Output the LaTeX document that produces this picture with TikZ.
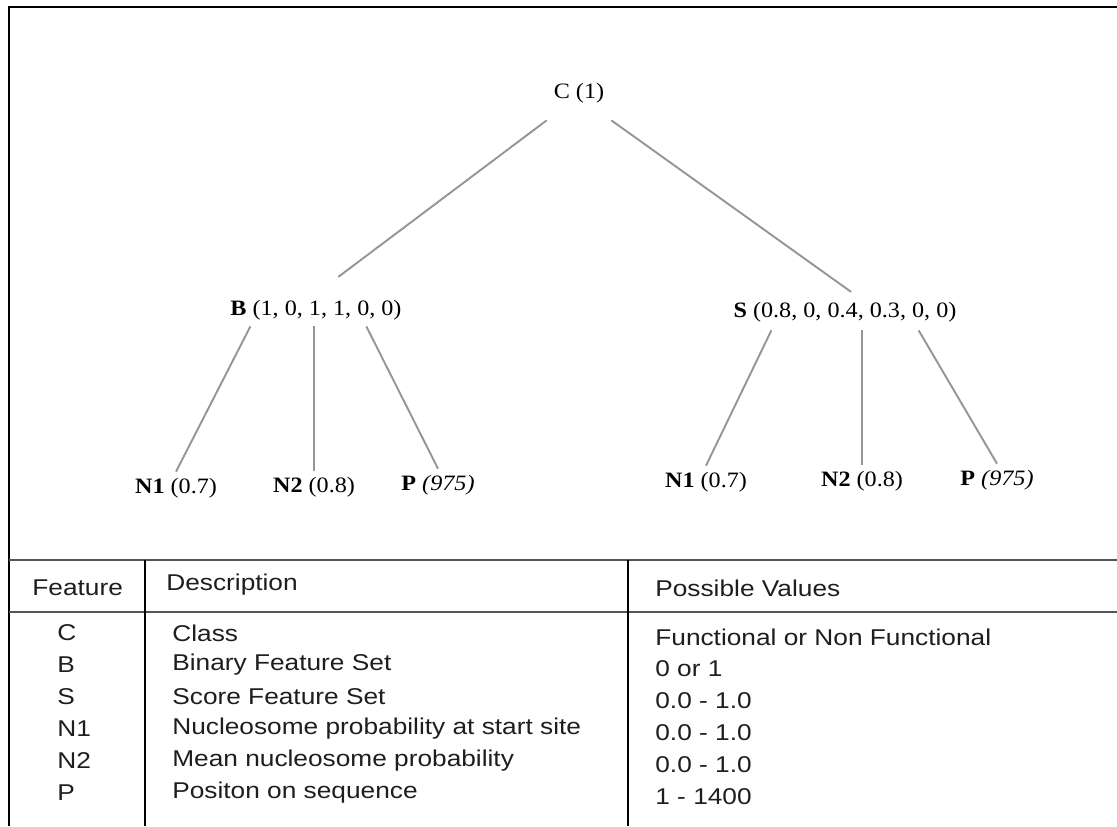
\documentclass[tikz,border=0pt]{standalone}
\usepackage{fontspec}
\setmainfont{Liberation Serif}[FakeStretch=1.1]
\newfontfamily\tablefont{Liberation Sans}[FakeStretch=1.15]
\usetikzlibrary{positioning,calc}
\definecolor{edgegray}{RGB}{150,150,150}
\definecolor{rulegray}{RGB}{85,85,85}
\definecolor{tabtext}{RGB}{30,30,30}
\tikzset{
  tnode/.style={rectangle, inner sep=0pt, font=\fontsize{12.5}{14}\selectfont},
  leaf/.style={tnode, minimum height=0.64cm},
  edge/.style={draw=edgegray, line width=1.1pt},
  frame/.style={line width=1.5pt, black},
  rule/.style={line width=1.3pt, rulegray},
  colrule/.style={line width=1.1pt, black},
  tcell/.style={font=\tablefont\fontsize{13}{15}\selectfont, text=tabtext,
                anchor=west, inner sep=0pt},
}

\begin{document}
\begin{tikzpicture}[x=0.02cm, y=-0.02cm]
  \useasboundingbox (0,0) rectangle (1117,826);
  % Frame
  \draw[frame] (9,826) -- (9,7) -- (1117,7);
  % Tree
  \node[tnode, minimum width=1.28cm, minimum height=1.08cm] (C) at (579,93) {C (1)};
  \node[tnode, minimum width=3.6cm, minimum height=0.64cm] (B) at (316,310)
    {\textbf{B} (1, 0, 1, 1, 0, 0)};
  \node[tnode, minimum width=4.6cm, minimum height=0.72cm] (S) at (845,312)
    {\textbf{S} (0.8, 0, 0.4, 0.3, 0, 0)};
  \node[leaf] (bN1) at (176,488) {\textbf{N1} (0.7)};
  \node[leaf] (bN2) at (314,487) {\textbf{N2} (0.8)};
  \node[leaf] (bP)  at (438,485) {\textbf{P} \textit{(975)}};
  \node[leaf] (sN1) at (706,482) {\textbf{N1} (0.7)};
  \node[leaf] (sN2) at (862,481) {\textbf{N2} (0.8)};
  \node[leaf] (sP)  at (997,480) {\textbf{P} \textit{(975)}};
  \draw[edge, shorten >=0.56cm] (C.south west) -- (B.north);
  \draw[edge, shorten >=0.06cm] (C.south east) -- (S.65);
  \draw[edge] (B.194) -- (bN1.north);
  \draw[edge] (B.south -| bN2.north) -- (bN2.north);
  \draw[edge] (B.342.6) -- (bP.north);
  \draw[edge] (S.194.8) -- (sN1.north);
  \draw[edge] (S.south -| sN2.north) -- (sN2.north);
  \draw[edge] (S.346.8) -- (sP.north);
  % Table
  \draw[rule] (9,560) -- (1117,560);
  \draw[rule] (9,612) -- (1117,612);
  \draw[colrule] (145,560) -- (145,826);
  \draw[colrule] (628,560) -- (628,826);
  \node[tcell] (hFeature) at (32,588) {Feature};
  \node[tcell] (hDesc) at (166,585) {Description};
  \node[tcell] (hValues) at (655,588) {Possible Values};
  \foreach \f/\d/\v [count=\i] in {C/Class/Functional or Non Functional,
      B/Binary Feature Set/0 or 1, S/Score Feature Set/0.0 - 1.0,
      N1/Nucleosome probability at start site/0.0 - 1.0,
      N2/Mean nucleosome probability/0.0 - 1.0,
      P/Positon on sequence/1 - 1400}{
    \node[tcell] (feat\i) at (57,{601+32*\i}) {\f};
    \node[tcell] (desc\i) at (172,{601+32*\i}) {\d};
    \node[tcell] (val\i) at (655,{605+32*\i}) {\v};
  }
\end{tikzpicture}
\end{document}
